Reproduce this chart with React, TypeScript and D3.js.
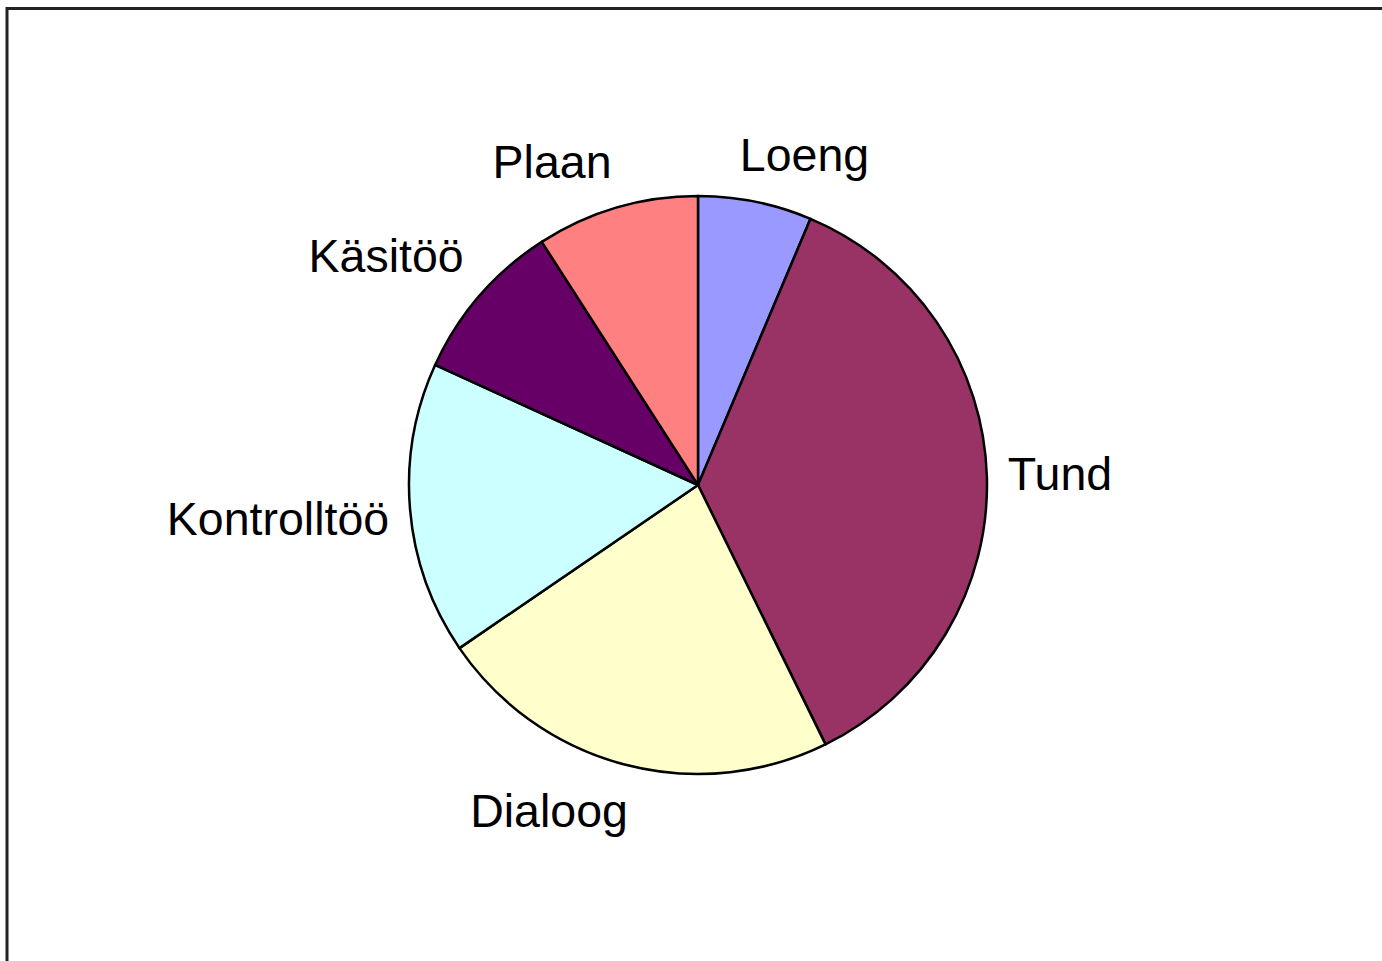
import * as d3 from "d3";
import { useEffect, useRef } from "react";

const categories = ["Loeng", "Tund", "Dialoog", "Kontrolltöö", "Käsitöö", "Plaan"];
const values = [7, 40, 25, 18, 10, 10];
const colors = ["#9999FF", "#993366", "#FFFFCC", "#CCFFFF", "#660066", "#FF8080"];

const W = 1382;
const H = 961;

const App = () => {
  const ref = useRef<SVGSVGElement | null>(null);

  useEffect(() => {
    if (!ref.current) return;
    const svg = d3.select(ref.current);
    svg.selectAll("*").remove();

    // frame
    svg
      .append("rect")
      .attr("x", 7)
      .attr("y", 8.5)
      .attr("width", W + 50)
      .attr("height", H + 50)
      .attr("fill", "#fff")
      .attr("stroke", "#222")
      .attr("stroke-width", 3);

    const cx = 698;
    const cy = 485;
    const r = 289;

    const data = categories.map((c, i) => ({ name: c, value: values[i], color: colors[i] }));
    const pie = d3
      .pie<{ name: string; value: number; color: string }>()
      .sort(null)
      .value((d) => d.value);
    const arcs = pie(data);
    const arc = d3.arc<d3.PieArcDatum<{ name: string; value: number; color: string }>>().innerRadius(0).outerRadius(r);

    const g = svg.append("g").attr("transform", `translate(${cx},${cy})`);

    g.selectAll("path")
      .data(arcs)
      .join("path")
      .attr("d", arc)
      .attr("fill", (d) => d.data.color)
      .attr("stroke", "#000")
      .attr("stroke-width", 2.5)
      .attr("stroke-linejoin", "round");

    // labels, outside end
    const fontSize = 46.5;
    const boxH = fontSize * 1.117;
    const gap = 21;
    const clamp = (t: number) => Math.max(-1, Math.min(1, t));

    const labels = g
      .selectAll("text")
      .data(arcs)
      .join("text")
      .style("font-family", "'Liberation Sans', Arial, sans-serif")
      .style("font-size", `${fontSize}px`)
      .attr("fill", "#000")
      .attr("text-anchor", "middle")
      .text((d) => d.data.name);

    labels.each(function (d) {
      const el = this as SVGTextElement;
      const w = el.getComputedTextLength();
      const a = (d.startAngle + d.endAngle) / 2;
      const s = Math.sin(a);
      const c = Math.cos(a);
      const ax = (r + gap) * s;
      const ay = -(r + gap) * c;
      const mx = ax + clamp(s * 3.5) * (w / 2);
      const my = ay - clamp(c * 3.5) * (boxH / 2);
      d3.select(el)
        .attr("x", mx)
        .attr("y", my + fontSize * 0.3465);
    });
  }, []);

  return (
    <svg
      ref={ref}
      width={W}
      height={H}
      style={{ position: "absolute", left: 0, top: 0, display: "block" }}
    />
  );
};

export default App;
